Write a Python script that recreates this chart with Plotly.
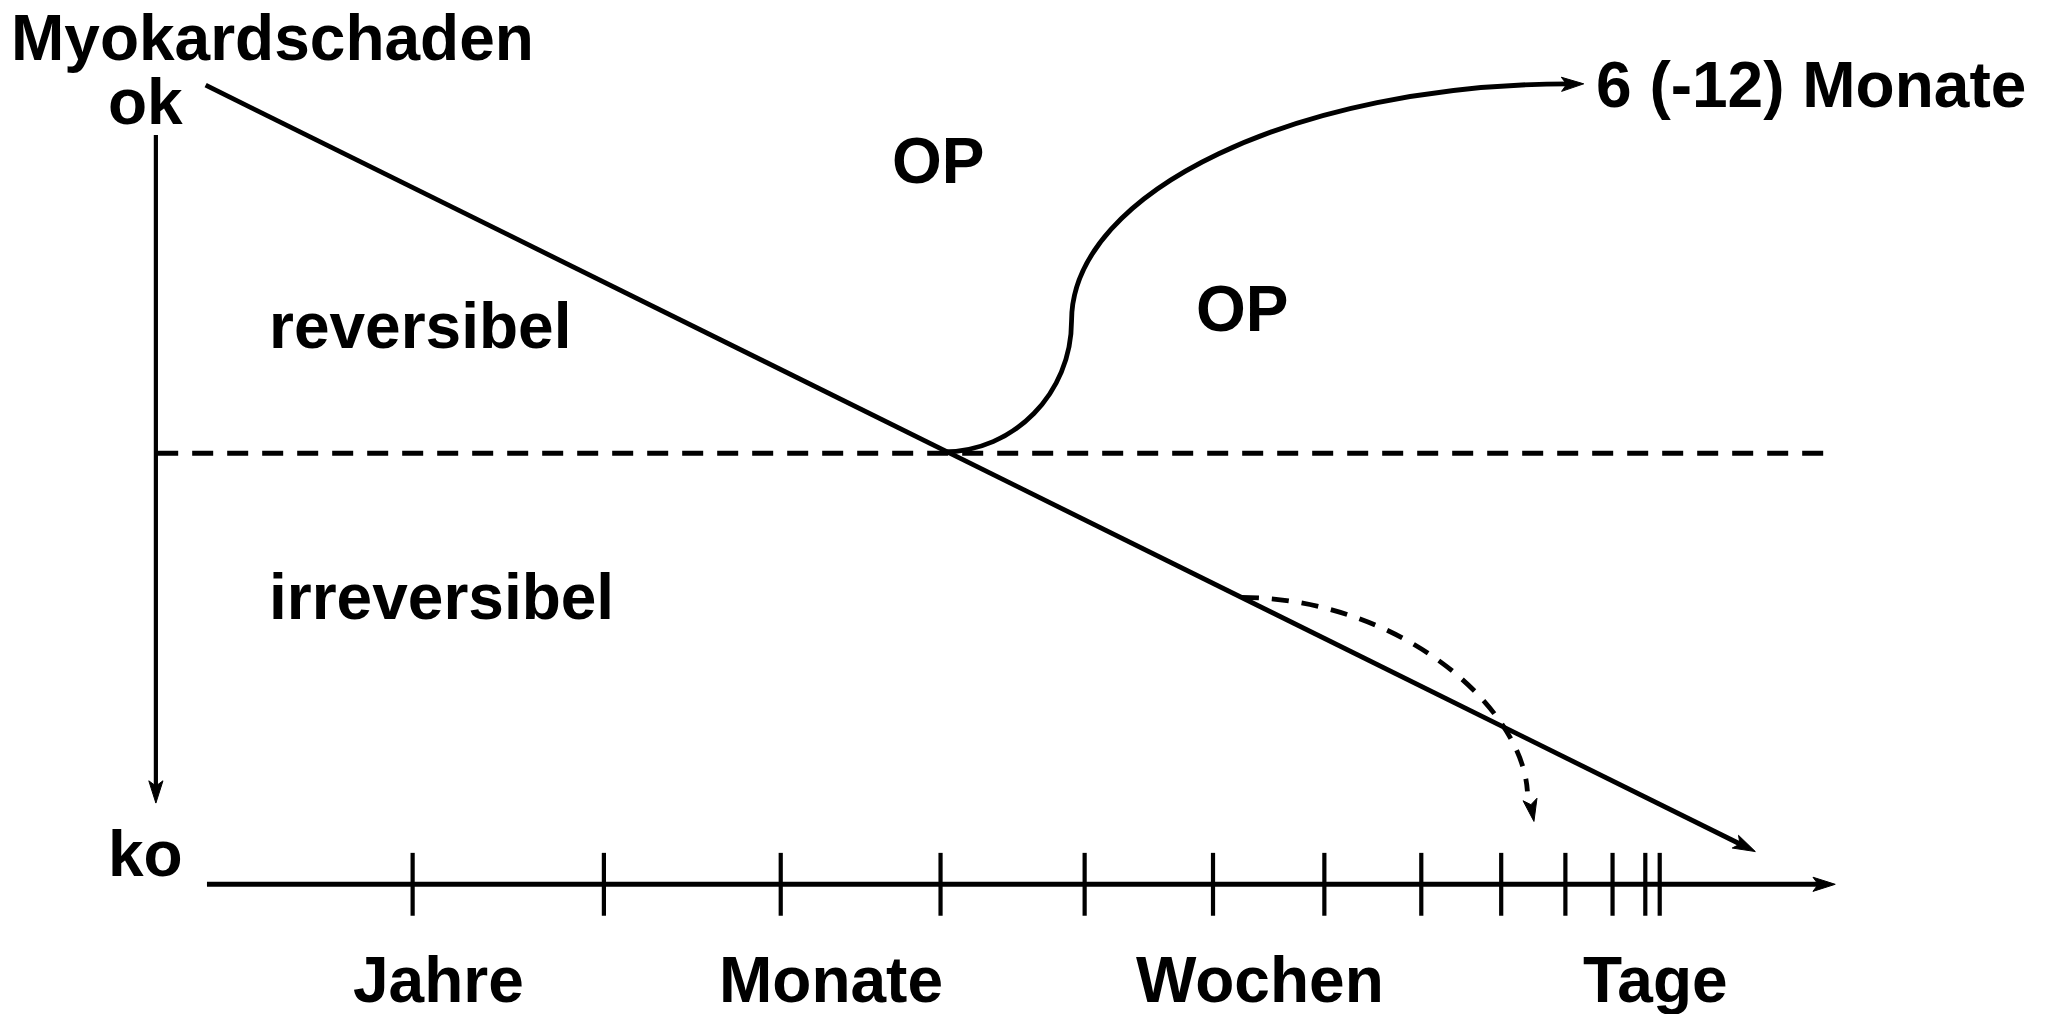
import math
import plotly.graph_objects as go

# ---------------- canvas (diagram units = reference coordinates) ----------------
W, H = 2054, 1014
XR, YR = 1568, 774

# ---------------- time axis ----------------
axis_y = 675
axis_x = [158, 1401]
tick_x = [315, 461, 596, 718, 828, 926, 1011, 1085, 1146, 1195, 1231, 1256, 1267]
tick_half = 24
time_labels = ["Jahre", "Monate", "Wochen", "Tage"]
time_label_x = [335, 634, 962, 1264]
time_label_y = 748

# ---------------- damage axis ----------------
dmg_x = 119
dmg_y = [103, 613]
dmg_labels = ["Myokardschaden", "ok", "ko"]
dmg_label_pos = [(7, 29, "left"), (111, 78, "center"), (111, 652, "center")]

# ---------------- threshold reversible / irreversible ----------------
thr_y = 346
thr_x = [120, 1392]
zone_labels = ["reversibel", "irreversibel"]
zone_label_pos = [(204, 249), (204, 456)]

# ---------------- course of damage ----------------
course_start = (157, 65)
course_tip = (1340, 650)

# OP curve: two cubic bezier segments (start, c1, c2, end, c1, c2, end)
op_curve = [(720, 345), (774, 345), (818, 300), (818, 245),
            (818, 146), (991, 64), (1198, 64)]
op_tip = (1209, 64)
op_labels = ["OP", "OP", "6 (-12) Monate"]
op_label_pos = [(716, 123, "center"), (948, 236, "center"), (1217, 65, "left")]

# dashed course after OP
dash_curve = [(948, 456), (1070, 457), (1162, 540), (1166, 604)]
dash_tip = (1171, 627)

FONT = "Liberation Sans, Arial, Helvetica, sans-serif"
FS = 64
LW = 4.8

shapes = []


def line(x0, y0, x1, y1, width=LW, dash=None):
    d = dict(type="line", xref="x", yref="y", x0=x0, y0=y0, x1=x1, y1=y1,
             line=dict(color="black", width=width))
    if dash:
        d["line"]["dash"] = dash
    shapes.append(d)


def head(tip, direction, length=17, half=5.4, notch=4):
    dx, dy = direction
    n = math.hypot(dx, dy)
    dx, dy = dx / n, dy / n
    px, py = -dy, dx
    tx, ty = tip
    bx, by = tx - dx * length, ty - dy * length
    lx, ly = bx + px * half, by + py * half
    rx, ry = bx - px * half, by - py * half
    nx, ny = bx + dx * notch, by + dy * notch
    path = f"M{tx},{ty} L{lx},{ly} L{nx},{ny} L{rx},{ry} Z"
    shapes.append(dict(type="path", xref="x", yref="y", path=path,
                       fillcolor="black", line=dict(color="black", width=1)))


def bezier_path(pts):
    p = f"M{pts[0][0]},{pts[0][1]}"
    for i in range(1, len(pts), 3):
        a, b, c = pts[i], pts[i + 1], pts[i + 2]
        p += f" C{a[0]},{a[1]} {b[0]},{b[1]} {c[0]},{c[1]}"
    return p


# time axis with arrow
line(axis_x[0], axis_y, axis_x[1] - 10, axis_y, width=5)
head((axis_x[1], axis_y), (1, 0))
for tx in tick_x:
    line(tx, axis_y - tick_half, tx, axis_y + tick_half, width=4.2)

# damage axis with arrow
line(dmg_x, dmg_y[0], dmg_x, dmg_y[1] - 10, width=4.2)
head((dmg_x, dmg_y[1]), (0, 1))

# threshold dashed line
line(thr_x[0], thr_y, thr_x[1], thr_y, width=5, dash="21px,14px")

# main course with arrow
dx = course_tip[0] - course_start[0]
dy = course_tip[1] - course_start[1]
n = math.hypot(dx, dy)
line(course_start[0], course_start[1],
     course_tip[0] - dx / n * 10, course_tip[1] - dy / n * 10)
head(course_tip, (dx, dy))

# OP curve
shapes.append(dict(type="path", xref="x", yref="y", path=bezier_path(op_curve),
                   line=dict(color="black", width=LW)))
head(op_tip, (1, -0.02))

# dashed course
shapes.append(dict(type="path", xref="x", yref="y", path=bezier_path(dash_curve),
                   line=dict(color="black", width=LW, dash="17px,13px")))
head(dash_tip, (0.18, 1))

annotations = []


def label(text, x, y, anchor="center"):
    annotations.append(dict(text=f"<b>{text}</b>", x=x, y=y, xref="x", yref="y",
                            xanchor=anchor, yanchor="middle", showarrow=False,
                            font=dict(family=FONT, size=FS, color="black")))


for t, (x, y, a) in zip(dmg_labels, dmg_label_pos):
    label(t, x, y, a)
for t, (x, y) in zip(zone_labels, zone_label_pos):
    label(t, x, y, "left")
for t, (x, y, a) in zip(op_labels, op_label_pos):
    label(t, x, y, a)
for t, x in zip(time_labels, time_label_x):
    label(t, x, time_label_y)

fig = go.Figure()
fig.add_trace(go.Scatter(x=[0, XR], y=[0, YR], mode="markers",
                         marker=dict(opacity=0), hoverinfo="skip", showlegend=False))
fig.update_layout(
    width=W, height=H, autosize=False,
    margin=dict(l=0, r=0, t=0, b=0, pad=0),
    paper_bgcolor="white", plot_bgcolor="white",
    xaxis=dict(range=[0, XR], visible=False, fixedrange=True),
    yaxis=dict(range=[YR, 0], visible=False, fixedrange=True),
    shapes=shapes, annotations=annotations, showlegend=False,
)
fig.write_html("out.html", config={"displayModeBar": False},
               post_script="document.body.style.margin='0';document.body.style.overflow='hidden';")
